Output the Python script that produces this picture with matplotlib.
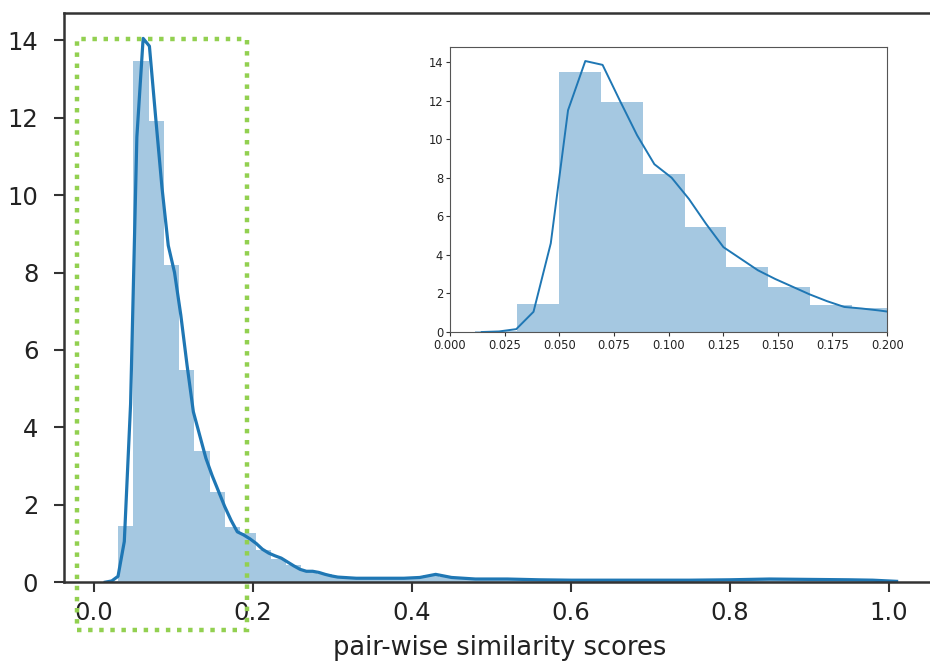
import numpy as np
import matplotlib.pyplot as plt
from matplotlib.patches import Rectangle

# histogram: first bin edge, bin width, heights (density)
bin_start = 0.0113
bin_width = 0.0192
hist_heights = [0.03, 1.45, 13.47, 11.92, 8.20, 5.47, 3.39, 2.33, 1.42, 1.27,
                0.83, 0.60, 0.45, 0.30, 0.22, 0.16, 0.12, 0.10, 0.10, 0.10,
                0.10, 0.18, 0.12, 0.08, 0.08, 0.07, 0.06, 0.05, 0.05, 0.05,
                0.05, 0.05, 0.05, 0.05, 0.05, 0.05, 0.05, 0.05, 0.05, 0.05,
                0.05, 0.06, 0.07, 0.08, 0.08, 0.07, 0.07, 0.06, 0.06, 0.05,
                0.05, 0.04]

# kde curve
kde_x = [0.0145, 0.0224, 0.0303, 0.0382, 0.0461, 0.0540, 0.0619, 0.0698,
         0.0777, 0.0856, 0.0935, 0.1014, 0.1093, 0.1172, 0.1251, 0.1330,
         0.1409, 0.1488, 0.1567, 0.1646, 0.1725, 0.1804, 0.1883, 0.1962,
         0.2041, 0.2120, 0.2199, 0.2278, 0.2357, 0.2436, 0.2515, 0.2594,
         0.2673, 0.2752, 0.2831, 0.2910, 0.2989, 0.3068, 0.33, 0.36, 0.39,
         0.41, 0.43, 0.45, 0.48, 0.52, 0.56, 0.60, 0.65, 0.70, 0.75, 0.80,
         0.85, 0.90, 0.95, 0.98, 1.01]
kde_y = [0.0, 0.03, 0.15, 1.05, 4.6, 11.5, 14.05, 13.85,
         12.0, 10.2, 8.7, 8.0, 6.9, 5.6, 4.4, 3.8,
         3.2, 2.75, 2.35, 1.95, 1.6, 1.3, 1.22, 1.12,
         1.0, 0.85, 0.75, 0.68, 0.62, 0.52, 0.42, 0.33,
         0.28, 0.28, 0.25, 0.20, 0.16, 0.13, 0.10, 0.10, 0.10,
         0.12, 0.20, 0.12, 0.08, 0.08, 0.06, 0.05, 0.05, 0.05, 0.05, 0.06,
         0.08, 0.07, 0.06, 0.05, 0.02]

inset_ticks = [0.0, 0.025, 0.05, 0.075, 0.1, 0.125, 0.15, 0.175, 0.2]

edges = bin_start + bin_width * np.arange(len(hist_heights) + 1)
blue = "#1f77b4"
spine_col = "#333333"
text_col = "#222222"

fig = plt.figure(figsize=(9.3, 6.63), dpi=100)

# main axes (right side runs off the figure like the cropped screenshot)
ax = fig.add_axes([0.0688, 0.122, 0.938, 0.858])
ax.stairs(hist_heights, edges, fill=True, color=blue, alpha=0.4, lw=0)
ax.plot(kde_x, kde_y, color=blue, lw=2.3)
ax.set_xlim(-0.0377, 1.06)
ax.set_ylim(0, 14.7)
ax.set_xticks([0.0, 0.2, 0.4, 0.6, 0.8, 1.0])
ax.set_yticks(range(0, 15, 2))
ax.tick_params(labelsize=17.5, length=7.5, width=1.5, colors=spine_col,
               labelcolor=text_col)
ax.tick_params(axis="x", pad=6)
ax.tick_params(axis="y", pad=11)
for s in ax.spines.values():
    s.set_linewidth(1.8)
    s.set_color(spine_col)
ax.set_xlabel("pair-wise similarity scores", fontsize=18.5, color=text_col,
              labelpad=7)

# green dotted highlight box
box = Rectangle((-0.021, -1.24), 0.213, 15.27, fill=False,
                edgecolor="#92D050", lw=3.2, linestyle=(0, (1, 1.5)),
                clip_on=False, zorder=5)
ax.add_patch(box)

# inset zoom
ins = fig.add_axes([0.4839, 0.4992, 0.470, 0.430])
ins.stairs(hist_heights, edges, fill=True, color=blue, alpha=0.4, lw=0)
ins.plot(kde_x, kde_y, color=blue, lw=1.4)
ins.set_xlim(0, 0.2)
ins.set_ylim(0, 14.78)
ins.set_xticks(inset_ticks)
ins.set_xticklabels(["%.3f" % t for t in inset_ticks])
ins.set_yticks(range(0, 15, 2))
ins.tick_params(labelsize=8.3, length=3, width=0.8, colors=spine_col,
                labelcolor=text_col, pad=2)
for s in ins.spines.values():
    s.set_linewidth(0.8)
    s.set_color("#555555")

fig.savefig("out.png", dpi=100)
